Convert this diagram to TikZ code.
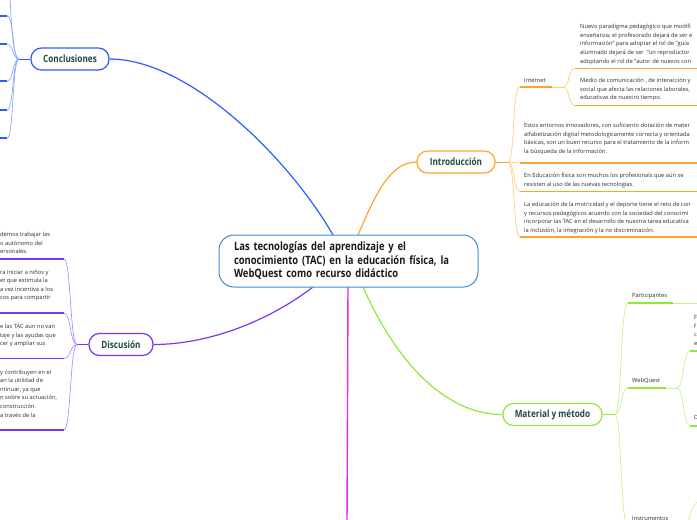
\documentclass[tikz,border=0pt]{standalone}
\usepackage{fontspec}
\setmainfont{Open Sans}
\newfontfamily\headfont[FakeStretch=0.82]{Open Sans}
\usetikzlibrary{backgrounds}
\definecolor{cblue}{HTML}{2E5BFF}
\definecolor{cbluel}{HTML}{8FA6FF}
\definecolor{cpurp}{HTML}{7B35F5}
\definecolor{cpurpl}{HTML}{B58DFA}
\definecolor{corng}{HTML}{FFA42B}
\definecolor{corngl}{HTML}{FFCB80}
\definecolor{cgrn}{HTML}{8FE83A}
\definecolor{cgrnl}{HTML}{C6F394}
\definecolor{cmag}{HTML}{E02BE6}
\definecolor{cctr}{HTML}{3B8ED6}
\definecolor{ctxt}{HTML}{1E4D3C}
\definecolor{cgray}{HTML}{2C2C2C}
\tikzset{
  branch/.style={draw, line width=1.2pt, fill=white, rounded corners=10.5pt,
    font=\headfont\bfseries\fontsize{10}{12}\selectfont, text=ctxt,
    inner sep=0pt, minimum height=22pt},
  leaf/.style={line width=1.7pt},
  forkline/.style={line width=0.7pt},
  main/.style={line width=1.2pt},
  small/.style={font=\fontsize{5.75}{8.6}\selectfont, text=cgray, align=left,
    inner sep=0pt, anchor=north west},
  lbl/.style={font=\fontsize{5.75}{8.6}\selectfont, text=cgray, inner sep=0pt, anchor=west}
}
\newcommand{\fs}{\rule{0pt}{5.3pt}}
\begin{document}
\begin{tikzpicture}[x=1pt,y=-1pt]
\useasboundingbox (0,0) rectangle (697,520);
\clip (0,0) rectangle (697,520);

% ---------- central node
\node[draw=cctr, line width=1pt, fill=white, rounded corners=15pt,
  minimum width=259pt, minimum height=52pt, text width=229pt, inner xsep=15pt,
  align=left, font=\headfont\bfseries\fontsize{11.5}{13.5}\selectfont, text=black!90]
  (c) at (348.5,261) {Las tecnologías del aprendizaje y el\\conocimiento (TAC) en la educación física, la\\WebQuest como recurso didáctico};

% ---------- branch nodes
\node[branch, draw=cblue, minimum width=78pt] (concl) at (70,59) {Conclusiones};
\node[branch, draw=cpurp, minimum width=64pt] (disc) at (121,344.5) {Discusión};
\node[branch, draw=corng, minimum width=78pt] (intro) at (456,162) {Introducción};
\node[branch, draw=cgrn, minimum width=99pt] (mat) at (552.5,414.5) {Material y método};

% anchor points on the central node
\coordinate (cB) at (333,235);
\coordinate (cO) at (358,235);
\coordinate (cP) at (313,287);
\coordinate (cG) at (363,287);
\coordinate (cM) at (348,287);
\coordinate (mEnd) at (347,525);

\begin{scope}[on background layer]
\draw[main, cblue] (concl.east) .. controls (190,59) and (290,160) .. (cB);
\draw[main, corng] (cO) .. controls (375,195) and (390,162) .. (intro.west);
\draw[main, cpurp] (cP) .. controls (270,320) and (210,344.5) .. (disc.east);
\draw[main, cgrn] (cG) .. controls (400,370) and (450,414.5) .. (mat.west);
\draw[main, cmag, line width=1.4pt] (cM) -- (mEnd);
\end{scope}

% ---------- Conclusiones children
\coordinate (fC) at (19,59);
\draw[forkline, cblue] (concl.west) -- (fC);
\foreach \n/\yy in {1/15.7,2/44.3,3/81,4/110,5/138.3}{
  \coordinate (cl\n) at (7,\yy);
  \coordinate (cl\n s) at (-2,\yy);
  \draw[forkline, cbluel] (fC) .. controls (12,59) and (14,\yy) .. (cl\n);
  \draw[leaf, cblue] (cl\n) -- (cl\n s);
}
\coordinate (clTop) at (10,-5);
\draw[forkline, cbluel] (fC) .. controls (13,59) and (11,20) .. (clTop);

% ---------- Discusion children
\coordinate (fD) at (77,344.5);
\draw[forkline, cpurp] (disc.west) -- (fD);
\foreach \n/\yy in {1/259,2/313,3/358.5,4/430}{
  \coordinate (dl\n) at (64,\yy);
  \coordinate (dl\n s) at (-2,\yy);
  \draw[forkline, cpurpl] (fD) .. controls (70,344.5) and (71,\yy) .. (dl\n);
  \draw[leaf, cpurp] (dl\n) -- (dl\n s);
}
\node[small] (d1) at (0,231.2) {\fs demos trabajar las\\o autónomo del\\ersonales.};
\node[small] (d2) at (0,268.5) {\fs ra iniciar a niños y\\et que estimula la\\a vez incentiva a los\\cos para compartir};
\node[small] (d3) at (0,322.9) {\fs e las TAC aun no van\\taje y las ayudas que\\cer y ampliar sus};
\node[small] (d4) at (0,368.5) {\fs y contribuyen en el\\an la utilidad de\\ntinuar, ya que\\n sobre su actuación,\\construcción.\\a través de la};

% ---------- Introduccion children
\coordinate (fI) at (508,162);
\draw[forkline, corng] (intro.east) -- (fI);
\coordinate (iInt) at (520,87);
\coordinate (iIntE) at (552,87);
\coordinate (fInt) at (563,87);
\draw[forkline, corngl] (fI) .. controls (515,162) and (512,87) .. (iInt);
\draw[leaf, corng] (iInt) -- (iIntE);
\draw[forkline, corngl] (iIntE) -- (fInt);
\node[lbl] (tInt) at (524,80) {Internet};
\foreach \n/\yy in {1/68.5,2/105.5}{
  \coordinate (is\n) at (575,\yy);
  \coordinate (is\n e) at (700,\yy);
  \draw[forkline, corngl] (fInt) .. controls (570,87) and (568,\yy) .. (is\n);
  \draw[leaf, corng] (is\n) -- (is\n e);
}
\node[small] (ti1) at (580,23.2) {\fs Nuevo paradigma pedagógico que modifi\\enseñanza; el profesorado dejará de ser e\\información" para adoptar el rol de "guía\\alumnado dejará de ser \ "un reproductor\\adoptando el rol de "autor de nuevos con};
\node[small] (ti2) at (580,77.2) {\fs Medio de comunicación , de interacción y\\social que afecta las relaciones laborales,\\educativas de nuestro tiempo.};
\foreach \n/\yy in {2/163,3/191.5,4/237}{
  \coordinate (il\n) at (520,\yy);
  \coordinate (il\n e) at (700,\yy);
  \draw[forkline, corngl] (fI) .. controls (515,162) and (513,\yy) .. (il\n);
  \draw[leaf, corng] (il\n) -- (il\n e);
}
\node[small] (ti3) at (524,122.2) {\fs Estos entornos innovadores, con suficiento dotación de mater\\alfabetización digital metodologicamente correcta y orientada\\básicas, son un buen recurso para el tratamiento de la inform\\la búsqueda de la información.};
\node[small] (ti4) at (524,172.2) {\fs En Educación física son muchos los profesionals que aún se\\resisten al uso de las nuevas tecnologías.};
\node[small] (ti5) at (524,201.2) {\fs La educación de la motricidad y el deporte tiene el reto de con\\y recursos pedagógicos acuerdo con la sociedad del conocimi\\incorporar las TAC en el desarrollo de nuestra tarea educativa\\la inclusión, la integración y la no discriminación.};

% ---------- Material y metodo children
\coordinate (fM) at (615,414.5);
\draw[forkline, cgrn] (mat.east) -- (fM);
\coordinate (mP) at (628,303);
\coordinate (mPe) at (673,303);
\coordinate (mPf) at (700,303);
\draw[forkline, cgrnl] (fM) .. controls (622,414.5) and (620,303) .. (mP);
\draw[leaf, cgrn] (mP) -- (mPe);
\draw[forkline, cgrnl] (mPe) -- (mPf);
\node[lbl] (tP) at (632,296) {Participantes};
\coordinate (mW) at (628,388);
\coordinate (mWe) at (666,388);
\coordinate (fW) at (677,388);
\draw[forkline, cgrnl] (fM) .. controls (622,414.5) and (620,388) .. (mW);
\draw[leaf, cgrn] (mW) -- (mWe);
\draw[forkline, cgrnl] (mWe) -- (fW);
\node[lbl] (tW) at (632,381) {WebQuest};
\foreach \n/\yy in {1/351,2/426}{
  \coordinate (ws\n) at (690,\yy);
  \coordinate (ws\n e) at (700,\yy);
  \draw[forkline, cgrnl] (fW) .. controls (684,388) and (683,\yy) .. (ws\n);
  \draw[leaf, cgrn] (ws\n) -- (ws\n e);
}
\node[small] (tw1) at (694,314) {\fs F\\f\\c\\e};
\node[small] (tw2) at (694,413.5) {\fs D};
\coordinate (mI) at (628,526);
\draw[forkline, cgrnl] (fM) .. controls (622,414.5) and (620,526) .. (mI);
\node[lbl] (tI) at (632,518.5) {Instrumentos};
\coordinate (fIn) at (683,528);
\coordinate (iSub) at (700,500);
\draw[forkline, cgrnl] (fIn) .. controls (690,528) and (688,506) .. (iSub);
\end{tikzpicture}
\end{document}
